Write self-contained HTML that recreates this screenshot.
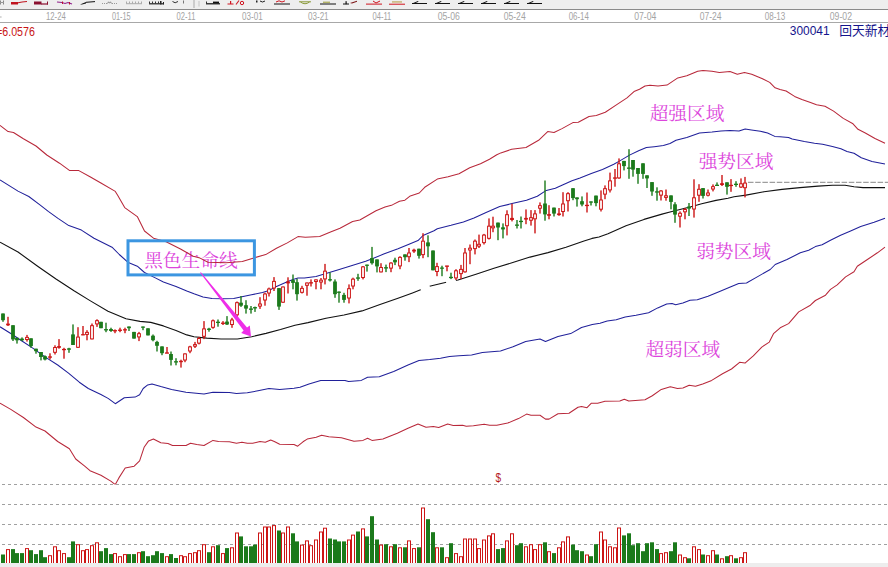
<!DOCTYPE html><html><head><meta charset="utf-8"><title>chart</title><style>
html,body{margin:0;padding:0;background:#fff}body{width:888px;height:567px;overflow:hidden;position:relative;font-family:"Liberation Sans","Noto Sans CJK SC",sans-serif}
svg{position:absolute;left:0;top:0;display:block}
.cn{font-family:"Liberation Serif","Noto Serif CJK SC",serif}
</style></head><body>
<svg width="888" height="567" viewBox="0 0 888 567">
<rect x="0" y="0" width="888" height="567" fill="#fff"/>
<rect x="0" y="0" width="888" height="9" fill="#eeeeee"/>
<rect x="0" y="9" width="888" height="1" fill="#8a8a8a"/>
<rect x="0" y="22" width="888" height="1" fill="#a8a8a8"/>
<g id="tb">
<rect x="0" y="0.5" width="1" height="4" fill="#888"/>
<rect x="3" y="0.5" width="1" height="4" fill="#888"/>
<rect x="0" y="2" width="4" height="1" fill="#999"/>
<rect x="11" y="2" width="7" height="2.5" fill="#c0141e"/>
<line x1="17" y1="3" x2="22" y2="2" stroke="#c0141e" stroke-width="1.2"/>
<line x1="22" y1="2" x2="27" y2="1.5" stroke="#c0141e" stroke-width="1"/>
<rect x="34" y="1.5" width="7.5" height="3" fill="#8a1030"/>
<line x1="41" y1="4" x2="48" y2="4" stroke="#8a1030" stroke-width="1.2"/>
<rect x="47" y="1.5" width="1" height="3" fill="#8a1030"/>
<polyline points="57,2 62,2.5 65,3.5 68,2.5 72,4" fill="none" stroke="#90208a" stroke-width="1.1"/>
<rect x="62" y="1.5" width="1" height="2.5" fill="#c01030"/>
<rect x="69" y="2" width="1" height="2.5" fill="#c01030"/>
<polygon points="80,4.6 86,2 86,3.6 82,4.6" fill="#111"/>
<line x1="86" y1="2.3" x2="95" y2="1.6" stroke="#111" stroke-width="1"/>
<rect x="102" y="3" width="1" height="1" fill="#999"/>
<rect x="104" y="3" width="1" height="1" fill="#999"/>
<rect x="106" y="3" width="1" height="1" fill="#999"/>
<rect x="112" y="3" width="1" height="1" fill="#999"/>
<rect x="114" y="3" width="1" height="1" fill="#999"/>
<rect x="116" y="3" width="1" height="1" fill="#999"/>
<polyline points="107.5,3.5 108.5,1.8 109.5,3.2 110.5,1.8 111.5,3.5" fill="none" stroke="#777" stroke-width="0.8"/>
<rect x="126" y="3.2" width="16" height="1" fill="#aaa"/>
<rect x="126" y="1.5" width="1" height="2" fill="#aaa"/>
<rect x="129" y="1.5" width="1" height="2" fill="#aaa"/>
<rect x="132" y="1.5" width="1" height="2" fill="#aaa"/>
<rect x="135" y="1.5" width="1" height="2" fill="#aaa"/>
<rect x="138" y="1.5" width="1" height="2" fill="#aaa"/>
<rect x="141" y="1.5" width="1" height="2" fill="#aaa"/>
<rect x="149" y="3.2" width="15" height="1.2" fill="#222"/>
<rect x="149" y="1.5" width="1" height="2" fill="#333"/>
<rect x="152" y="1.5" width="1" height="2" fill="#333"/>
<rect x="155" y="1.5" width="1" height="2" fill="#333"/>
<rect x="158" y="1.5" width="1" height="2" fill="#333"/>
<rect x="160" y="1" width="1.5" height="3.4" fill="#222"/>
<rect x="163" y="2" width="1" height="2.4" fill="#222"/>
<path d="M172.5 1.5 Q175 4 178 1.5" fill="none" stroke="#333" stroke-width="1"/>
<rect x="183" y="0.5" width="1" height="3" fill="#777"/>
<rect x="193.5" y="0" width="1" height="8" fill="#aaa"/>
<rect x="198.5" y="1" width="1" height="5.5" fill="#c4c4c4"/>
<rect x="206" y="3.2" width="14" height="1.2" fill="#111"/>
<rect x="213" y="1.6" width="6" height="1.8" fill="#111"/>
<rect x="206" y="1.5" width="1" height="2" fill="#333"/>
<rect x="227.5" y="3.5" width="6" height="1" fill="#d01420"/>
<rect x="230" y="1" width="1.2" height="3" fill="#d01420"/>
<line x1="236" y1="4.5" x2="239" y2="0.5" stroke="#d01420" stroke-width="1.1"/>
<circle cx="242" cy="3" r="1.7" fill="none" stroke="#d01420" stroke-width="1"/>
<rect x="256" y="0.5" width="1.5" height="2" fill="#222"/>
<path d="M260 1 Q262.5 3 265 1" fill="none" stroke="#222" stroke-width="1"/>
<rect x="274" y="3.5" width="16" height="1" fill="#111"/>
<polyline points="276,2 279,0.8 282,2 285,0.8" fill="none" stroke="#d01420" stroke-width="1"/>
<rect x="299" y="1.3" width="12" height="1" fill="#8a9a3a"/>
<path d="M300.5 2 Q305 5.5 309.5 2" fill="none" stroke="#8a9a3a" stroke-width="1"/>
<rect x="320" y="3.5" width="16" height="1" fill="#111"/>
<rect x="323" y="1.7" width="7" height="1" fill="#9a9a30"/>
<rect x="343" y="3.5" width="6" height="1" fill="#111"/>
<rect x="345.5" y="1.2" width="1.2" height="3" fill="#111"/>
<polygon points="350,3 357,0.8 357,1.8 352,3.4" fill="#7a1010"/>
<rect x="366" y="3.6" width="16" height="1" fill="#d01420"/>
<polyline points="373,1 376,3 380,1" fill="none" stroke="#d01420" stroke-width="1"/>
<rect x="389" y="3.7" width="16" height="1" fill="#d01420"/>
<rect x="392" y="1.5" width="10" height="0.9" fill="#b0902a"/>
<rect x="412" y="3" width="15" height="1" fill="#111"/>
<polygon points="412,3.6 418,1 418.5,1.8 414.5,3.6" fill="#111"/>
<rect x="435" y="3" width="15" height="1" fill="#111"/>
<polygon points="435,3.6 441,1 441.5,1.8 437.5,3.6" fill="#111"/>
<rect x="458" y="3" width="15" height="1" fill="#111"/>
<polygon points="458,3.6 464,1 464.5,1.8 460.5,3.6" fill="#111"/>
<rect x="481" y="3" width="15" height="1" fill="#111"/>
<polygon points="481,3.6 487,1 487.5,1.8 483.5,3.6" fill="#111"/>
<rect x="504" y="3" width="15" height="1" fill="#111"/>
<polygon points="504,3.6 510,1 510.5,1.8 506.5,3.6" fill="#111"/>
<rect x="527" y="3" width="15" height="1" fill="#111"/>
<polygon points="527,3.6 533,1 533.5,1.8 529.5,3.6" fill="#111"/>
</g>
<rect x="0" y="16.5" width="1.6" height="1" fill="#b0b0b0"/>
<g font-family="Liberation Sans, sans-serif" font-size="10px" fill="#a4a4a4">
<text x="46" y="19.9" textLength="19.8" lengthAdjust="spacingAndGlyphs">12-24</text>
<text x="111.9" y="19.9" textLength="18.8" lengthAdjust="spacingAndGlyphs">01-15</text>
<text x="176.6" y="19.9" textLength="18.8" lengthAdjust="spacingAndGlyphs">02-11</text>
<text x="242.1" y="19.9" textLength="20.6" lengthAdjust="spacingAndGlyphs">03-01</text>
<text x="308" y="19.9" textLength="20.6" lengthAdjust="spacingAndGlyphs">03-21</text>
<text x="372.5" y="19.9" textLength="18.8" lengthAdjust="spacingAndGlyphs">04-11</text>
<text x="437.7" y="19.9" textLength="22.2" lengthAdjust="spacingAndGlyphs">05-06</text>
<text x="503.7" y="19.9" textLength="22.0" lengthAdjust="spacingAndGlyphs">05-24</text>
<text x="568.7" y="19.9" textLength="20.2" lengthAdjust="spacingAndGlyphs">06-14</text>
<text x="634.2" y="19.9" textLength="22.2" lengthAdjust="spacingAndGlyphs">07-04</text>
<text x="699.7" y="19.9" textLength="21.8" lengthAdjust="spacingAndGlyphs">07-24</text>
<text x="764.7" y="19.9" textLength="20.6" lengthAdjust="spacingAndGlyphs">08-13</text>
<text x="829.8" y="19.9" textLength="22.2" lengthAdjust="spacingAndGlyphs">09-02</text>
</g>
<text x="-4.8" y="36.3" font-family="Liberation Sans, sans-serif" font-size="12.3px" fill="#c81414">=</text>
<text x="2.3" y="36.3" font-family="Liberation Sans, sans-serif" font-size="12.3px" fill="#c81414" textLength="32.6" lengthAdjust="spacingAndGlyphs">6.0576</text>
<text x="789.8" y="35.2" font-family="Liberation Sans, sans-serif" font-size="13.5px" fill="#14148c" textLength="39.8" lengthAdjust="spacingAndGlyphs">300041</text>
<text x="839.2" y="35.3" font-family="Liberation Sans, Noto Sans CJK SC, sans-serif" font-size="12.8px" fill="#14148c">回天新材</text>
<line x1="0" y1="484.5" x2="888" y2="484.5" stroke="#a0a0a0" stroke-width="1" stroke-dasharray="3 3" stroke-dashoffset="4"/>
<line x1="0" y1="504.5" x2="888" y2="504.5" stroke="#a0a0a0" stroke-width="1" stroke-dasharray="3 3" stroke-dashoffset="4"/>
<line x1="0" y1="524.5" x2="888" y2="524.5" stroke="#a0a0a0" stroke-width="1" stroke-dasharray="3 3" stroke-dashoffset="4"/>
<line x1="0" y1="544.5" x2="888" y2="544.5" stroke="#a0a0a0" stroke-width="1" stroke-dasharray="3 3" stroke-dashoffset="4"/>
<rect x="0" y="563" width="888" height="4" fill="#ededed"/>
<line x1="748" y1="182.3" x2="888" y2="182.3" stroke="#868686" stroke-width="1" stroke-dasharray="5.5 1.7"/>
<g class="cn" font-family="Liberation Serif, Noto Serif CJK SC, serif" font-size="18.7px" fill="#dc46dc">
<text x="649.7" y="120.1">超强区域</text>
<text x="698.7" y="167.6">强势区域</text>
<text x="696.2" y="258.3">弱势区域</text>
<text x="645.4" y="355.6">超弱区域</text>
<text x="144.2" y="266.8">黑色生命线</text>
</g>
<defs><clipPath id="cp"><rect x="0" y="23" width="888" height="461.5"/></clipPath></defs>
<g clip-path="url(#cp)" fill="none" stroke-width="1.05" stroke-linejoin="round">
<polyline points="0.0,125.3 8.1,131.6 13.5,132.5 23.4,138.8 36.0,146.0 46.8,155.0 59.5,163.2 69.4,170.4 78.4,170.4 90.0,176.7 100.9,183.0 115.3,191.4 117.5,195.0 124.7,207.6 137.3,216.6 144.5,231.0 153.5,238.2 166.1,241.8 180.5,249.0 193.2,256.3 200.0,258.1 208.0,262.2 226.0,262.7 242.3,261.5 253.0,258.2 265.7,254.6 276.5,248.3 287.3,242.9 298.0,236.6 305.3,237.3 319.7,236.4 330.5,232.0 340.0,228.3 352.6,221.5 359.8,220.0 376.0,210.7 385.0,207.1 392.3,204.9 399.5,201.3 404.9,200.2 410.3,195.9 419.3,193.0 424.7,187.3 437.3,179.1 448.1,176.8 459.0,173.7 469.7,167.8 480.5,163.8 489.5,159.3 496.8,154.8 500.8,152.9 511.6,149.3 526.0,147.5 538.6,140.3 547.7,131.6 554.0,132.5 562.0,128.6 572.9,122.6 578.3,122.3 589.0,116.5 596.3,115.4 605.3,112.3 616.0,105.1 627.0,97.9 634.0,91.6 639.5,89.3 645.0,86.0 650.0,85.3 658.0,86.0 667.0,85.1 677.8,77.9 686.8,75.8 697.7,71.3 703.0,70.4 712.0,71.3 719.3,72.5 730.0,71.6 737.3,74.3 744.5,72.5 751.7,74.3 762.5,78.8 769.7,82.4 775.1,87.8 780.0,89.5 786.1,91.0 794.6,96.4 801.9,99.5 810.5,102.5 816.5,104.7 825.0,106.2 833.6,111.1 843.3,118.4 853.0,123.8 858.0,129.3 865.3,133.0 875.0,138.5 885.0,143.3" stroke="#b8283a"/>
<polyline points="0.0,403.1 10.8,409.4 23.4,417.5 36.0,427.1 45.0,431.0 57.7,441.5 69.4,448.7 75.7,459.0 84.7,466.2 90.0,470.7 100.9,475.2 110.8,481.1 115.3,484.6 118.9,477.9 125.2,468.0 134.2,466.2 139.6,460.8 144.1,447.3 148.6,440.9 153.4,439.0 160.8,442.7 168.0,443.6 172.5,445.5 186.0,445.5 190.5,443.3 196.8,444.5 204.0,445.5 213.0,440.4 218.5,441.5 229.3,441.8 236.5,443.3 241.9,442.2 247.3,443.3 252.7,443.3 260.0,441.5 265.3,442.2 270.7,440.0 274.3,441.5 279.7,444.2 294.0,444.5 297.7,446.2 303.0,441.8 307.2,439.1 316.2,437.3 321.6,435.3 328.8,436.8 341.4,437.7 354.0,441.3 363.0,440.4 367.6,438.2 372.0,440.4 382.9,438.9 397.3,433.2 408.0,428.3 418.0,424.1 426.0,427.2 433.3,426.5 438.7,427.4 447.7,424.1 453.2,425.4 462.6,425.2 466.2,426.3 473.4,425.8 484.2,424.3 489.6,425.2 496.8,425.2 507.7,423.1 518.5,418.6 526.6,414.1 531.0,415.3 540.0,415.3 545.5,419.1 549.0,419.1 558.0,413.7 569.0,413.2 578.0,407.2 581.5,406.5 587.0,407.7 591.4,403.2 597.7,403.2 605.0,401.3 619.8,401.1 624.3,399.3 628.8,401.1 645.0,399.8 652.3,395.7 661.3,389.4 670.3,386.7 677.5,388.5 682.9,388.1 689.2,385.2 695.5,386.3 702.7,384.0 711.7,380.4 722.5,373.7 731.5,369.0 739.6,362.3 745.0,363.1 753.3,355.9 761.8,347.1 769.3,342.1 773.5,333.7 780.2,327.8 788.6,323.6 798.7,311.9 810.4,305.2 815.4,300.5 825.5,295.2 830.5,289.4 837.2,284.9 845.6,276.9 854.0,271.8 857.3,266.2 867.4,259.5 877.4,252.8 885.0,247.2" stroke="#b8283a"/>
<polyline points="0.0,179.9 18.0,191.1 28.8,196.5 39.6,204.7 48.6,211.6 58.0,218.4 68.8,225.6 81.4,230.1 94.0,238.2 112.0,247.2 119.3,254.5 128.3,262.6 137.3,266.2 144.5,272.5 155.3,277.9 163.4,282.0 176.0,286.5 186.8,291.0 194.0,293.8 203.0,297.0 212.0,298.6 222.9,298.8 233.7,298.5 240.7,297.0 251.5,294.7 262.5,292.6 269.0,290.5 276.5,286.4 287.3,281.8 293.0,279.5 298.0,277.9 304.4,278.0 316.0,276.4 326.0,273.5 336.8,270.3 351.3,265.8 365.7,261.3 372.9,258.6 383.7,254.1 398.0,248.7 409.0,244.2 418.0,240.6 423.0,235.5 434.0,230.7 437.3,228.7 451.0,225.3 463.4,221.9 474.0,218.0 485.5,212.7 499.7,206.6 512.0,203.6 526.5,200.3 537.3,196.2 546.3,190.4 555.3,188.2 562.5,185.0 572.0,180.8 580.0,177.9 591.3,173.4 602.5,169.4 613.8,164.3 619.4,161.1 629.5,155.1 638.6,150.8 646.4,147.6 654.3,146.7 663.4,145.6 670.0,143.5 676.0,140.3 686.8,137.4 699.5,132.9 712.0,132.0 721.0,131.1 730.0,130.5 739.0,131.1 745.2,129.0 751.4,129.9 760.4,131.2 767.6,133.0 774.8,136.4 780.0,136.8 788.5,137.6 792.2,139.1 804.4,141.5 814.5,143.2 822.6,144.3 832.4,146.4 840.9,148.8 847.0,151.5 854.0,153.3 861.3,157.8 872.0,161.4 885.0,164.1" stroke="#20209a"/>
<polyline points="0.0,326.8 10.8,333.5 21.6,340.7 32.4,347.9 45.0,356.9 57.7,365.0 68.5,373.2 79.3,382.2 88.3,388.5 100.9,394.5 108.1,398.4 115.3,403.7 124.3,397.8 135.1,397.1 139.6,394.8 143.2,388.5 147.7,384.9 152.0,383.9 160.8,386.6 171.6,389.5 186.0,392.3 204.0,394.1 213.0,392.3 229.3,392.6 236.5,393.5 247.3,392.8 258.0,390.8 269.0,388.6 279.7,389.5 294.0,388.3 300.0,387.3 309.0,384.0 320.7,380.4 345.0,380.4 348.6,381.6 361.3,380.4 367.6,377.3 379.3,376.8 393.7,371.4 408.0,365.0 419.0,360.5 429.7,359.6 440.5,358.2 449.5,356.4 459.0,355.8 471.6,354.9 482.4,352.5 500.5,350.9 513.0,346.8 525.7,341.4 540.0,339.0 545.5,341.4 558.0,336.5 570.7,333.6 581.5,327.5 592.3,324.6 600.0,323.3 607.2,321.1 616.2,319.7 625.2,317.0 636.0,315.2 648.6,312.8 657.7,307.9 666.7,304.0 672.0,303.4 675.7,304.7 682.9,303.1 690.0,300.2 697.3,299.8 708.0,296.2 719.0,291.7 729.7,287.2 738.7,283.6 746.5,283.0 756.8,277.1 770.2,269.5 775.2,264.5 787.0,259.5 800.3,252.8 808.7,250.3 815.4,246.6 822.1,244.7 830.5,240.2 840.6,235.2 850.6,231.0 860.7,226.5 874.1,222.3 885.0,218.2" stroke="#20209a"/>
<polyline points="0.0,242.2 18.0,252.0 38.0,266.5 56.0,279.0 74.0,290.8 90.0,300.6 108.0,311.3 126.0,318.8 140.0,321.4 150.8,322.4 163.4,325.9 176.0,330.4 186.8,334.9 194.0,336.7 206.7,338.1 221.0,339.0 237.3,339.0 251.7,336.7 266.0,333.4 280.5,329.5 295.0,325.2 308.0,322.6 326.0,318.3 344.0,315.0 362.0,310.9 380.0,304.6 398.0,298.3 412.5,292.9 420.6,289.8 429.6,286.2 440.0,283.7 446.3,282.3 458.0,280.0 476.0,274.2 494.0,268.2 512.0,262.8 530.0,257.1 548.0,252.6 566.0,247.2 584.0,240.9 592.0,238.4 599.0,237.0 608.0,233.8 626.0,225.7 644.0,219.4 662.0,214.1 671.0,211.8 680.0,209.5 691.0,206.8 701.7,203.7 716.0,200.4 728.0,198.2 734.0,196.8 746.0,195.1 764.0,191.7 782.0,189.4 800.0,187.6 818.0,186.1 832.5,185.2 845.0,185.2 854.0,186.7 863.0,187.6 885.0,187.6" stroke="#111" stroke-width="1.1"/>
</g>
<line x1="420.7" y1="289.6" x2="429.7" y2="286.1" stroke="#fff" stroke-width="4"/>
<line x1="446.2" y1="282.9" x2="456" y2="280.7" stroke="#fff" stroke-width="4"/>
<g>
<rect x="2.30" y="313.5" width="1.4" height="8.3" fill="#1b7a1b"/>
<rect x="1.1" y="313.5" width="3.8" height="6.7" fill="#1b7a1b"/>
<rect x="7.30" y="316.8" width="1.4" height="9.2" fill="#cc1414"/>
<rect x="6.1" y="323.6" width="3.8" height="1.7" fill="#cc1414"/>
<rect x="12.30" y="325.2" width="1.4" height="15.8" fill="#1b7a1b"/>
<rect x="11.1" y="325.2" width="3.8" height="14.2" fill="#1b7a1b"/>
<rect x="16.30" y="337.8" width="1.4" height="5.8" fill="#1b7a1b"/>
<rect x="15.1" y="337.8" width="3.8" height="2.5" fill="#1b7a1b"/>
<rect x="21.30" y="337.4" width="1.4" height="3.7" fill="#1b7a1b"/>
<rect x="20.1" y="338.6" width="3.8" height="1.7" fill="#1b7a1b"/>
<rect x="26.30" y="334.9" width="1.4" height="6.7" fill="#cc1414"/>
<rect x="25.1" y="336.9" width="3.8" height="3.1" fill="#cc1414"/>
<rect x="26.1" y="337.9" width="1.8" height="1.1" fill="#fff"/>
<rect x="30.30" y="338.3" width="1.4" height="9.5" fill="#1b7a1b"/>
<rect x="29.1" y="338.3" width="3.8" height="7.8" fill="#1b7a1b"/>
<rect x="35.30" y="348.7" width="1.4" height="5.0" fill="#1b7a1b"/>
<rect x="34.1" y="348.7" width="3.8" height="2.5" fill="#1b7a1b"/>
<rect x="40.30" y="352.0" width="1.4" height="8.4" fill="#1b7a1b"/>
<rect x="39.1" y="352.0" width="3.8" height="5.0" fill="#1b7a1b"/>
<rect x="44.30" y="355.4" width="1.4" height="5.0" fill="#1b7a1b"/>
<rect x="43.1" y="356.2" width="3.8" height="3.3" fill="#1b7a1b"/>
<rect x="49.30" y="353.3" width="1.4" height="6.2" fill="#cc1414"/>
<rect x="48" y="356.4" width="4" height="1.3" fill="#cc1414"/>
<rect x="54.30" y="345.3" width="1.4" height="9.2" fill="#cc1414"/>
<rect x="53.1" y="347.0" width="3.8" height="5.8" fill="#cc1414"/>
<rect x="54.1" y="348.0" width="1.8" height="3.8" fill="#fff"/>
<rect x="58.30" y="339.1" width="1.4" height="9.6" fill="#cc1414"/>
<rect x="57.1" y="346.1" width="3.8" height="1.7" fill="#cc1414"/>
<rect x="63.30" y="347.8" width="1.4" height="10.9" fill="#cc1414"/>
<rect x="62" y="348.9" width="4" height="1.3" fill="#cc1414"/>
<rect x="68.30" y="347.8" width="1.4" height="5.0" fill="#1b7a1b"/>
<rect x="67" y="348.4" width="4" height="1.3" fill="#1b7a1b"/>
<rect x="72.30" y="324.4" width="1.4" height="20.6" fill="#1b7a1b"/>
<rect x="71.1" y="334.4" width="3.8" height="10.6" fill="#1b7a1b"/>
<rect x="77.30" y="327.2" width="1.4" height="20.6" fill="#cc1414"/>
<rect x="76.1" y="336.6" width="3.8" height="11.2" fill="#cc1414"/>
<rect x="77.1" y="337.6" width="1.8" height="9.2" fill="#fff"/>
<rect x="82.30" y="326.0" width="1.4" height="9.2" fill="#cc1414"/>
<rect x="81.1" y="334.1" width="3.8" height="1.3" fill="#cc1414"/>
<rect x="86.30" y="330.2" width="1.4" height="10.1" fill="#cc1414"/>
<rect x="85.1" y="331.9" width="3.8" height="3.0" fill="#cc1414"/>
<rect x="86.1" y="332.9" width="1.8" height="1.0" fill="#fff"/>
<rect x="91.30" y="323.5" width="1.4" height="15.9" fill="#cc1414"/>
<rect x="90.1" y="325.2" width="3.8" height="14.2" fill="#cc1414"/>
<rect x="91.1" y="326.2" width="1.8" height="12.2" fill="#fff"/>
<rect x="96.30" y="319.3" width="1.4" height="7.6" fill="#cc1414"/>
<rect x="95.1" y="320.2" width="3.8" height="4.2" fill="#cc1414"/>
<rect x="96.1" y="321.2" width="1.8" height="2.2" fill="#fff"/>
<rect x="100.30" y="321.8" width="1.4" height="6.4" fill="#1b7a1b"/>
<rect x="99.1" y="321.8" width="3.8" height="6.4" fill="#1b7a1b"/>
<rect x="105.30" y="322.7" width="1.4" height="9.5" fill="#1b7a1b"/>
<rect x="104" y="329.1" width="4" height="1.3" fill="#1b7a1b"/>
<rect x="110.30" y="327.7" width="1.4" height="4.2" fill="#1b7a1b"/>
<rect x="109.1" y="329.0" width="3.8" height="2.0" fill="#1b7a1b"/>
<rect x="114.30" y="329.4" width="1.4" height="3.8" fill="#cc1414"/>
<rect x="113" y="330.1" width="4" height="1.3" fill="#cc1414"/>
<rect x="119.30" y="327.7" width="1.4" height="4.5" fill="#cc1414"/>
<rect x="118" y="329.6" width="4" height="1.3" fill="#cc1414"/>
<rect x="124.30" y="327.7" width="1.4" height="5.5" fill="#cc1414"/>
<rect x="123" y="329.2" width="4" height="1.3" fill="#cc1414"/>
<rect x="128.30" y="326.5" width="1.4" height="4.5" fill="#1b7a1b"/>
<rect x="127.1" y="326.5" width="3.8" height="1.7" fill="#1b7a1b"/>
<rect x="133.30" y="331.9" width="1.4" height="6.7" fill="#1b7a1b"/>
<rect x="132.1" y="331.9" width="3.8" height="6.7" fill="#1b7a1b"/>
<rect x="138.30" y="331.9" width="1.4" height="9.2" fill="#cc1414"/>
<rect x="137.1" y="333.2" width="3.8" height="4.2" fill="#cc1414"/>
<rect x="138.1" y="334.2" width="1.8" height="2.2" fill="#fff"/>
<rect x="142.30" y="326.5" width="1.4" height="3.7" fill="#1b7a1b"/>
<rect x="141.1" y="326.5" width="3.8" height="1.3" fill="#1b7a1b"/>
<rect x="147.30" y="328.3" width="1.4" height="7.1" fill="#1b7a1b"/>
<rect x="146.1" y="328.3" width="3.8" height="7.1" fill="#1b7a1b"/>
<rect x="152.30" y="334.5" width="1.4" height="6.8" fill="#1b7a1b"/>
<rect x="151.1" y="335.7" width="3.8" height="4.5" fill="#1b7a1b"/>
<rect x="156.30" y="340.8" width="1.4" height="10.7" fill="#1b7a1b"/>
<rect x="155.1" y="341.9" width="3.8" height="3.9" fill="#1b7a1b"/>
<rect x="161.30" y="346.4" width="1.4" height="8.8" fill="#1b7a1b"/>
<rect x="160.1" y="346.4" width="3.8" height="6.8" fill="#1b7a1b"/>
<rect x="166.30" y="347.0" width="1.4" height="6.2" fill="#cc1414"/>
<rect x="165" y="352.4" width="4" height="1.3" fill="#cc1414"/>
<rect x="170.30" y="351.5" width="1.4" height="14.0" fill="#1b7a1b"/>
<rect x="169.1" y="354.0" width="3.8" height="5.9" fill="#1b7a1b"/>
<rect x="175.30" y="358.2" width="1.4" height="7.1" fill="#1b7a1b"/>
<rect x="174" y="361.2" width="4" height="1.3" fill="#1b7a1b"/>
<rect x="180.30" y="359.7" width="1.4" height="7.9" fill="#cc1414"/>
<rect x="179.1" y="360.8" width="3.8" height="1.4" fill="#cc1414"/>
<rect x="184.30" y="353.4" width="1.4" height="8.8" fill="#cc1414"/>
<rect x="183.1" y="353.4" width="3.8" height="7.1" fill="#cc1414"/>
<rect x="184.1" y="354.4" width="1.8" height="5.1" fill="#fff"/>
<rect x="189.30" y="345.8" width="1.4" height="7.4" fill="#cc1414"/>
<rect x="188.1" y="346.4" width="3.8" height="5.1" fill="#cc1414"/>
<rect x="189.1" y="347.4" width="1.8" height="3.1" fill="#fff"/>
<rect x="194.30" y="341.9" width="1.4" height="6.1" fill="#cc1414"/>
<rect x="193.1" y="344.1" width="3.8" height="2.6" fill="#cc1414"/>
<rect x="194.1" y="345.1" width="1.8" height="0.6" fill="#fff"/>
<rect x="198.30" y="336.8" width="1.4" height="7.6" fill="#cc1414"/>
<rect x="197.1" y="338.0" width="3.8" height="5.6" fill="#cc1414"/>
<rect x="198.1" y="339.0" width="1.8" height="3.6" fill="#fff"/>
<rect x="203.30" y="321.1" width="1.4" height="18.0" fill="#cc1414"/>
<rect x="202.1" y="328.4" width="3.8" height="8.4" fill="#cc1414"/>
<rect x="203.1" y="329.4" width="1.8" height="6.4" fill="#fff"/>
<rect x="208.30" y="327.8" width="1.4" height="3.9" fill="#1b7a1b"/>
<rect x="207" y="328.6" width="4" height="1.3" fill="#1b7a1b"/>
<rect x="212.30" y="319.5" width="1.4" height="9.2" fill="#cc1414"/>
<rect x="211.1" y="320.3" width="3.8" height="7.5" fill="#cc1414"/>
<rect x="212.1" y="321.3" width="1.8" height="5.5" fill="#fff"/>
<rect x="217.30" y="319.5" width="1.4" height="7.2" fill="#1b7a1b"/>
<rect x="216" y="321.7" width="4" height="1.3" fill="#1b7a1b"/>
<rect x="222.30" y="321.1" width="1.4" height="3.9" fill="#cc1414"/>
<rect x="221" y="322.6" width="4" height="1.3" fill="#cc1414"/>
<rect x="226.30" y="316.1" width="1.4" height="8.9" fill="#1b7a1b"/>
<rect x="225.1" y="321.6" width="3.8" height="2.9" fill="#1b7a1b"/>
<rect x="231.30" y="317.8" width="1.4" height="10.0" fill="#cc1414"/>
<rect x="230.1" y="319.5" width="3.8" height="5.5" fill="#cc1414"/>
<rect x="231.1" y="320.5" width="1.8" height="3.5" fill="#fff"/>
<rect x="236.30" y="301.5" width="1.4" height="15.5" fill="#cc1414"/>
<rect x="235.1" y="302.2" width="3.8" height="13.1" fill="#cc1414"/>
<rect x="236.1" y="303.2" width="1.8" height="11.1" fill="#fff"/>
<rect x="240.30" y="296.0" width="1.4" height="10.9" fill="#1b7a1b"/>
<rect x="239.1" y="302.7" width="3.8" height="3.0" fill="#1b7a1b"/>
<rect x="245.30" y="300.2" width="1.4" height="13.4" fill="#1b7a1b"/>
<rect x="244.1" y="305.2" width="3.8" height="3.4" fill="#1b7a1b"/>
<rect x="250.30" y="306.0" width="1.4" height="7.6" fill="#1b7a1b"/>
<rect x="249" y="308.5" width="4" height="1.3" fill="#1b7a1b"/>
<rect x="254.30" y="306.6" width="1.4" height="5.3" fill="#1b7a1b"/>
<rect x="253" y="307.1" width="4" height="1.3" fill="#1b7a1b"/>
<rect x="259.30" y="297.2" width="1.4" height="11.7" fill="#cc1414"/>
<rect x="258.1" y="303.5" width="3.8" height="3.1" fill="#cc1414"/>
<rect x="259.1" y="304.5" width="1.8" height="1.1" fill="#fff"/>
<rect x="264.30" y="292.7" width="1.4" height="13.0" fill="#cc1414"/>
<rect x="263.1" y="293.5" width="3.8" height="7.0" fill="#cc1414"/>
<rect x="264.1" y="294.5" width="1.8" height="5.0" fill="#fff"/>
<rect x="268.30" y="287.6" width="1.4" height="8.9" fill="#cc1414"/>
<rect x="267.1" y="288.5" width="3.8" height="5.0" fill="#cc1414"/>
<rect x="268.1" y="289.5" width="1.8" height="3.0" fill="#fff"/>
<rect x="273.30" y="277.1" width="1.4" height="13.9" fill="#cc1414"/>
<rect x="272.1" y="280.9" width="3.8" height="7.6" fill="#cc1414"/>
<rect x="273.1" y="281.9" width="1.8" height="5.6" fill="#fff"/>
<rect x="278.30" y="288.1" width="1.4" height="21.8" fill="#1b7a1b"/>
<rect x="277.1" y="288.1" width="3.8" height="18.5" fill="#1b7a1b"/>
<rect x="282.30" y="286.5" width="1.4" height="16.2" fill="#cc1414"/>
<rect x="281.1" y="286.5" width="3.8" height="16.2" fill="#cc1414"/>
<rect x="282.1" y="287.5" width="1.8" height="14.2" fill="#fff"/>
<rect x="287.30" y="277.3" width="1.4" height="16.2" fill="#cc1414"/>
<rect x="286.1" y="281.5" width="3.8" height="1.9" fill="#cc1414"/>
<rect x="292.30" y="274.5" width="1.4" height="14.8" fill="#1b7a1b"/>
<rect x="291.1" y="280.1" width="3.8" height="2.8" fill="#1b7a1b"/>
<rect x="296.30" y="278.7" width="1.4" height="21.9" fill="#1b7a1b"/>
<rect x="295.1" y="282.2" width="3.8" height="12.0" fill="#1b7a1b"/>
<rect x="301.30" y="285.8" width="1.4" height="7.7" fill="#cc1414"/>
<rect x="300.1" y="287.9" width="3.8" height="4.9" fill="#cc1414"/>
<rect x="301.1" y="288.9" width="1.8" height="2.9" fill="#fff"/>
<rect x="306.30" y="282.5" width="1.4" height="13.2" fill="#cc1414"/>
<rect x="305.1" y="282.5" width="3.8" height="3.3" fill="#cc1414"/>
<rect x="306.1" y="283.5" width="1.8" height="1.3" fill="#fff"/>
<rect x="310.30" y="279.4" width="1.4" height="7.1" fill="#cc1414"/>
<rect x="309" y="282.2" width="4" height="1.3" fill="#cc1414"/>
<rect x="315.30" y="279.4" width="1.4" height="9.9" fill="#cc1414"/>
<rect x="314.1" y="279.4" width="3.8" height="2.6" fill="#cc1414"/>
<rect x="315.1" y="280.4" width="1.8" height="0.6" fill="#fff"/>
<rect x="320.30" y="278.0" width="1.4" height="11.3" fill="#cc1414"/>
<rect x="319.1" y="279.7" width="3.8" height="2.8" fill="#cc1414"/>
<rect x="320.1" y="280.7" width="1.8" height="0.8" fill="#fff"/>
<rect x="324.30" y="263.9" width="1.4" height="20.5" fill="#cc1414"/>
<rect x="323.1" y="270.7" width="3.8" height="8.7" fill="#cc1414"/>
<rect x="324.1" y="271.7" width="1.8" height="6.7" fill="#fff"/>
<rect x="329.30" y="272.4" width="1.4" height="9.1" fill="#1b7a1b"/>
<rect x="328.1" y="279.1" width="3.8" height="1.4" fill="#1b7a1b"/>
<rect x="334.30" y="279.4" width="1.4" height="18.4" fill="#1b7a1b"/>
<rect x="333.1" y="281.5" width="3.8" height="12.7" fill="#1b7a1b"/>
<rect x="338.30" y="291.4" width="1.4" height="11.3" fill="#1b7a1b"/>
<rect x="337.1" y="291.6" width="3.8" height="1.3" fill="#1b7a1b"/>
<rect x="343.30" y="292.8" width="1.4" height="9.9" fill="#1b7a1b"/>
<rect x="342.1" y="294.9" width="3.8" height="5.0" fill="#1b7a1b"/>
<rect x="348.30" y="284.4" width="1.4" height="19.0" fill="#cc1414"/>
<rect x="347.1" y="288.2" width="3.8" height="10.3" fill="#cc1414"/>
<rect x="348.1" y="289.2" width="1.8" height="8.3" fill="#fff"/>
<rect x="352.30" y="277.7" width="1.4" height="11.6" fill="#cc1414"/>
<rect x="351.1" y="278.7" width="3.8" height="7.8" fill="#cc1414"/>
<rect x="352.1" y="279.7" width="1.8" height="5.8" fill="#fff"/>
<rect x="357.30" y="273.8" width="1.4" height="7.0" fill="#1b7a1b"/>
<rect x="356" y="277.4" width="4" height="1.3" fill="#1b7a1b"/>
<rect x="362.30" y="266.0" width="1.4" height="13.4" fill="#cc1414"/>
<rect x="361.1" y="266.4" width="3.8" height="11.6" fill="#cc1414"/>
<rect x="362.1" y="267.4" width="1.8" height="9.6" fill="#fff"/>
<rect x="366.30" y="264.6" width="1.4" height="7.0" fill="#1b7a1b"/>
<rect x="365.1" y="264.6" width="3.8" height="1.3" fill="#1b7a1b"/>
<rect x="371.30" y="246.9" width="1.4" height="17.7" fill="#1b7a1b"/>
<rect x="370.1" y="258.0" width="3.8" height="5.2" fill="#1b7a1b"/>
<rect x="376.30" y="259.4" width="1.4" height="13.0" fill="#1b7a1b"/>
<rect x="375.1" y="259.4" width="3.8" height="7.0" fill="#1b7a1b"/>
<rect x="380.30" y="263.2" width="1.4" height="9.2" fill="#cc1414"/>
<rect x="379.1" y="267.0" width="3.8" height="5.4" fill="#cc1414"/>
<rect x="380.1" y="268.0" width="1.8" height="3.4" fill="#fff"/>
<rect x="385.30" y="264.6" width="1.4" height="7.5" fill="#1b7a1b"/>
<rect x="384" y="267.2" width="4" height="1.3" fill="#1b7a1b"/>
<rect x="390.30" y="262.2" width="1.4" height="10.0" fill="#cc1414"/>
<rect x="389.1" y="262.6" width="3.8" height="6.0" fill="#cc1414"/>
<rect x="390.1" y="263.6" width="1.8" height="4.0" fill="#fff"/>
<rect x="394.30" y="257.7" width="1.4" height="7.4" fill="#1b7a1b"/>
<rect x="393.1" y="259.8" width="3.8" height="2.5" fill="#1b7a1b"/>
<rect x="399.30" y="256.2" width="1.4" height="13.0" fill="#cc1414"/>
<rect x="398.1" y="256.9" width="3.8" height="9.5" fill="#cc1414"/>
<rect x="399.1" y="257.9" width="1.8" height="7.5" fill="#fff"/>
<rect x="404.30" y="254.4" width="1.4" height="6.3" fill="#1b7a1b"/>
<rect x="403.1" y="254.4" width="3.8" height="2.8" fill="#1b7a1b"/>
<rect x="408.30" y="248.0" width="1.4" height="14.1" fill="#cc1414"/>
<rect x="407.1" y="252.5" width="3.8" height="4.7" fill="#cc1414"/>
<rect x="408.1" y="253.5" width="1.8" height="2.7" fill="#fff"/>
<rect x="413.30" y="248.7" width="1.4" height="4.2" fill="#cc1414"/>
<rect x="412.1" y="249.7" width="3.8" height="1.8" fill="#cc1414"/>
<rect x="418.30" y="248.7" width="1.4" height="9.9" fill="#1b7a1b"/>
<rect x="417.1" y="248.7" width="3.8" height="7.1" fill="#1b7a1b"/>
<rect x="422.30" y="233.2" width="1.4" height="25.0" fill="#cc1414"/>
<rect x="421.1" y="240.7" width="3.8" height="14.4" fill="#cc1414"/>
<rect x="422.1" y="241.7" width="1.8" height="12.4" fill="#fff"/>
<rect x="427.30" y="235.3" width="1.4" height="21.9" fill="#1b7a1b"/>
<rect x="426.1" y="242.4" width="3.8" height="3.9" fill="#1b7a1b"/>
<rect x="432.30" y="250.5" width="1.4" height="19.8" fill="#1b7a1b"/>
<rect x="431.1" y="250.5" width="3.8" height="19.8" fill="#1b7a1b"/>
<rect x="436.30" y="262.8" width="1.4" height="13.4" fill="#cc1414"/>
<rect x="435.1" y="266.1" width="3.8" height="5.9" fill="#cc1414"/>
<rect x="436.1" y="267.1" width="1.8" height="3.9" fill="#fff"/>
<rect x="441.30" y="265.7" width="1.4" height="10.5" fill="#1b7a1b"/>
<rect x="440.1" y="267.5" width="3.8" height="1.3" fill="#1b7a1b"/>
<rect x="446.30" y="265.7" width="1.4" height="5.6" fill="#cc1414"/>
<rect x="445" y="265.5" width="4" height="1.3" fill="#cc1414"/>
<rect x="450.30" y="272.7" width="1.4" height="6.4" fill="#1b7a1b"/>
<rect x="449" y="276.8" width="4" height="1.3" fill="#1b7a1b"/>
<rect x="455.30" y="269.2" width="1.4" height="10.8" fill="#cc1414"/>
<rect x="454.1" y="270.3" width="3.8" height="8.1" fill="#cc1414"/>
<rect x="455.1" y="271.3" width="1.8" height="6.1" fill="#fff"/>
<rect x="460.30" y="264.9" width="1.4" height="14.2" fill="#cc1414"/>
<rect x="459.1" y="268.9" width="3.8" height="5.2" fill="#cc1414"/>
<rect x="460.1" y="269.9" width="1.8" height="3.2" fill="#fff"/>
<rect x="464.30" y="248.0" width="1.4" height="24.7" fill="#cc1414"/>
<rect x="463.1" y="252.5" width="3.8" height="19.8" fill="#cc1414"/>
<rect x="464.1" y="253.5" width="1.8" height="17.8" fill="#fff"/>
<rect x="469.30" y="244.5" width="1.4" height="19.7" fill="#cc1414"/>
<rect x="468.1" y="247.7" width="3.8" height="2.8" fill="#cc1414"/>
<rect x="469.1" y="248.7" width="1.8" height="0.8" fill="#fff"/>
<rect x="474.30" y="239.5" width="1.4" height="14.9" fill="#cc1414"/>
<rect x="473.1" y="240.7" width="3.8" height="8.4" fill="#cc1414"/>
<rect x="474.1" y="241.7" width="1.8" height="6.4" fill="#fff"/>
<rect x="478.30" y="234.6" width="1.4" height="13.4" fill="#cc1414"/>
<rect x="477.1" y="243.8" width="3.8" height="2.8" fill="#cc1414"/>
<rect x="478.1" y="244.8" width="1.8" height="0.8" fill="#fff"/>
<rect x="483.30" y="233.9" width="1.4" height="10.6" fill="#cc1414"/>
<rect x="482.1" y="234.6" width="3.8" height="8.5" fill="#cc1414"/>
<rect x="483.1" y="235.6" width="1.8" height="6.5" fill="#fff"/>
<rect x="488.30" y="218.4" width="1.4" height="21.1" fill="#cc1414"/>
<rect x="487.1" y="225.7" width="3.8" height="13.1" fill="#cc1414"/>
<rect x="488.1" y="226.7" width="1.8" height="11.1" fill="#fff"/>
<rect x="492.30" y="216.7" width="1.4" height="15.5" fill="#cc1414"/>
<rect x="491.1" y="225.7" width="3.8" height="2.6" fill="#cc1414"/>
<rect x="492.1" y="226.7" width="1.8" height="0.6" fill="#fff"/>
<rect x="497.30" y="222.6" width="1.4" height="17.6" fill="#1b7a1b"/>
<rect x="496.1" y="222.6" width="3.8" height="4.9" fill="#1b7a1b"/>
<rect x="502.30" y="223.4" width="1.4" height="15.0" fill="#1b7a1b"/>
<rect x="501.1" y="227.3" width="3.8" height="2.1" fill="#1b7a1b"/>
<rect x="506.30" y="210.3" width="1.4" height="25.1" fill="#cc1414"/>
<rect x="505.1" y="214.2" width="3.8" height="12.0" fill="#cc1414"/>
<rect x="506.1" y="215.2" width="1.8" height="10.0" fill="#fff"/>
<rect x="511.30" y="203.8" width="1.4" height="17.6" fill="#cc1414"/>
<rect x="510.1" y="217.9" width="3.8" height="2.1" fill="#cc1414"/>
<rect x="516.30" y="220.0" width="1.4" height="8.5" fill="#1b7a1b"/>
<rect x="515" y="224.5" width="4" height="1.3" fill="#1b7a1b"/>
<rect x="520.30" y="216.5" width="1.4" height="12.0" fill="#1b7a1b"/>
<rect x="519" y="220.8" width="4" height="1.3" fill="#1b7a1b"/>
<rect x="525.30" y="209.4" width="1.4" height="14.8" fill="#cc1414"/>
<rect x="524.1" y="217.9" width="3.8" height="1.7" fill="#cc1414"/>
<rect x="530.30" y="210.1" width="1.4" height="15.5" fill="#cc1414"/>
<rect x="529.1" y="217.2" width="3.8" height="3.5" fill="#cc1414"/>
<rect x="530.1" y="218.2" width="1.8" height="1.5" fill="#fff"/>
<rect x="534.30" y="210.1" width="1.4" height="23.3" fill="#cc1414"/>
<rect x="533.1" y="213.4" width="3.8" height="5.9" fill="#cc1414"/>
<rect x="534.1" y="214.4" width="1.8" height="3.9" fill="#fff"/>
<rect x="539.30" y="202.4" width="1.4" height="11.2" fill="#cc1414"/>
<rect x="538.1" y="205.2" width="3.8" height="3.5" fill="#cc1414"/>
<rect x="539.1" y="206.2" width="1.8" height="1.5" fill="#fff"/>
<rect x="544.30" y="180.5" width="1.4" height="40.2" fill="#1b7a1b"/>
<rect x="543.1" y="203.5" width="3.8" height="10.9" fill="#1b7a1b"/>
<rect x="548.30" y="205.2" width="1.4" height="14.1" fill="#cc1414"/>
<rect x="547.1" y="214.1" width="3.8" height="1.7" fill="#cc1414"/>
<rect x="553.30" y="207.6" width="1.4" height="8.9" fill="#1b7a1b"/>
<rect x="552.1" y="207.6" width="3.8" height="6.0" fill="#1b7a1b"/>
<rect x="558.30" y="208.0" width="1.4" height="7.8" fill="#cc1414"/>
<rect x="557.1" y="213.4" width="3.8" height="1.7" fill="#cc1414"/>
<rect x="562.30" y="192.2" width="1.4" height="24.3" fill="#cc1414"/>
<rect x="561.1" y="203.5" width="3.8" height="8.5" fill="#cc1414"/>
<rect x="562.1" y="204.5" width="1.8" height="6.5" fill="#fff"/>
<rect x="567.30" y="192.2" width="1.4" height="19.3" fill="#cc1414"/>
<rect x="566.1" y="193.2" width="3.8" height="8.0" fill="#cc1414"/>
<rect x="567.1" y="194.2" width="1.8" height="6.0" fill="#fff"/>
<rect x="572.30" y="188.2" width="1.4" height="12.0" fill="#1b7a1b"/>
<rect x="571.1" y="188.2" width="3.8" height="9.9" fill="#1b7a1b"/>
<rect x="576.30" y="197.4" width="1.4" height="9.2" fill="#1b7a1b"/>
<rect x="575.1" y="197.4" width="3.8" height="1.8" fill="#1b7a1b"/>
<rect x="581.30" y="196.4" width="1.4" height="9.9" fill="#1b7a1b"/>
<rect x="580.1" y="201.2" width="3.8" height="3.3" fill="#1b7a1b"/>
<rect x="586.30" y="192.5" width="1.4" height="20.0" fill="#cc1414"/>
<rect x="585" y="204.8" width="4" height="1.3" fill="#cc1414"/>
<rect x="590.30" y="201.4" width="1.4" height="4.1" fill="#1b7a1b"/>
<rect x="589.1" y="201.4" width="3.8" height="1.3" fill="#1b7a1b"/>
<rect x="595.30" y="195.6" width="1.4" height="10.7" fill="#1b7a1b"/>
<rect x="594.1" y="195.6" width="3.8" height="7.5" fill="#1b7a1b"/>
<rect x="600.30" y="190.4" width="1.4" height="21.1" fill="#cc1414"/>
<rect x="599.1" y="199.5" width="3.8" height="10.2" fill="#cc1414"/>
<rect x="600.1" y="200.5" width="1.8" height="8.2" fill="#fff"/>
<rect x="604.30" y="185.4" width="1.4" height="13.8" fill="#cc1414"/>
<rect x="603.1" y="188.2" width="3.8" height="6.4" fill="#cc1414"/>
<rect x="604.1" y="189.2" width="1.8" height="4.4" fill="#fff"/>
<rect x="609.30" y="172.6" width="1.4" height="19.9" fill="#cc1414"/>
<rect x="608.1" y="180.4" width="3.8" height="10.0" fill="#cc1414"/>
<rect x="609.1" y="181.4" width="1.8" height="8.0" fill="#fff"/>
<rect x="614.30" y="169.0" width="1.4" height="17.7" fill="#cc1414"/>
<rect x="613" y="177.4" width="4" height="1.3" fill="#cc1414"/>
<rect x="618.30" y="158.4" width="1.4" height="20.4" fill="#cc1414"/>
<rect x="617.1" y="163.3" width="3.8" height="15.1" fill="#cc1414"/>
<rect x="618.1" y="164.3" width="1.8" height="13.1" fill="#fff"/>
<rect x="623.30" y="160.9" width="1.4" height="9.5" fill="#1b7a1b"/>
<rect x="622.1" y="160.9" width="3.8" height="5.2" fill="#1b7a1b"/>
<rect x="628.30" y="149.2" width="1.4" height="29.6" fill="#1b7a1b"/>
<rect x="627" y="167.5" width="4" height="1.3" fill="#1b7a1b"/>
<rect x="632.30" y="160.0" width="1.4" height="16.7" fill="#1b7a1b"/>
<rect x="631.1" y="160.0" width="3.8" height="9.6" fill="#1b7a1b"/>
<rect x="637.30" y="168.0" width="1.4" height="15.8" fill="#1b7a1b"/>
<rect x="636.1" y="168.0" width="3.8" height="5.9" fill="#1b7a1b"/>
<rect x="642.30" y="163.3" width="1.4" height="15.5" fill="#1b7a1b"/>
<rect x="641.1" y="163.3" width="3.8" height="10.6" fill="#1b7a1b"/>
<rect x="646.30" y="175.3" width="1.4" height="12.7" fill="#1b7a1b"/>
<rect x="645.1" y="175.3" width="3.8" height="3.1" fill="#1b7a1b"/>
<rect x="651.30" y="182.1" width="1.4" height="13.7" fill="#1b7a1b"/>
<rect x="650.1" y="182.1" width="3.8" height="9.4" fill="#1b7a1b"/>
<rect x="656.30" y="187.3" width="1.4" height="13.4" fill="#1b7a1b"/>
<rect x="655" y="191.3" width="4" height="1.3" fill="#1b7a1b"/>
<rect x="660.30" y="190.1" width="1.4" height="10.4" fill="#cc1414"/>
<rect x="659.1" y="190.5" width="3.8" height="5.1" fill="#cc1414"/>
<rect x="660.1" y="191.5" width="1.8" height="3.1" fill="#fff"/>
<rect x="665.30" y="189.5" width="1.4" height="11.2" fill="#cc1414"/>
<rect x="664.1" y="195.3" width="3.8" height="2.6" fill="#cc1414"/>
<rect x="665.1" y="196.3" width="1.8" height="0.6" fill="#fff"/>
<rect x="670.30" y="195.4" width="1.4" height="13.9" fill="#1b7a1b"/>
<rect x="669.1" y="195.4" width="3.8" height="6.5" fill="#1b7a1b"/>
<rect x="674.30" y="202.2" width="1.4" height="20.6" fill="#1b7a1b"/>
<rect x="673.1" y="204.3" width="3.8" height="10.3" fill="#1b7a1b"/>
<rect x="679.30" y="211.4" width="1.4" height="16.1" fill="#cc1414"/>
<rect x="678.1" y="212.8" width="3.8" height="3.9" fill="#cc1414"/>
<rect x="679.1" y="213.8" width="1.8" height="1.9" fill="#fff"/>
<rect x="684.30" y="207.9" width="1.4" height="11.4" fill="#cc1414"/>
<rect x="683.1" y="209.0" width="3.8" height="3.3" fill="#cc1414"/>
<rect x="684.1" y="210.0" width="1.8" height="1.3" fill="#fff"/>
<rect x="688.30" y="203.0" width="1.4" height="13.0" fill="#1b7a1b"/>
<rect x="687.1" y="206.5" width="3.8" height="2.1" fill="#1b7a1b"/>
<rect x="693.30" y="179.3" width="1.4" height="38.3" fill="#cc1414"/>
<rect x="692.1" y="197.3" width="3.8" height="12.2" fill="#cc1414"/>
<rect x="693.1" y="198.3" width="1.8" height="10.2" fill="#fff"/>
<rect x="698.30" y="184.2" width="1.4" height="17.6" fill="#cc1414"/>
<rect x="697.1" y="188.8" width="3.8" height="6.9" fill="#cc1414"/>
<rect x="698.1" y="189.8" width="1.8" height="4.9" fill="#fff"/>
<rect x="702.30" y="188.1" width="1.4" height="10.4" fill="#1b7a1b"/>
<rect x="701.1" y="188.1" width="3.8" height="7.8" fill="#1b7a1b"/>
<rect x="707.30" y="189.5" width="1.4" height="6.9" fill="#cc1414"/>
<rect x="706.1" y="192.5" width="3.8" height="3.2" fill="#cc1414"/>
<rect x="707.1" y="193.5" width="1.8" height="1.2" fill="#fff"/>
<rect x="712.30" y="184.4" width="1.4" height="7.0" fill="#cc1414"/>
<rect x="711.1" y="186.2" width="3.8" height="3.3" fill="#cc1414"/>
<rect x="712.1" y="187.2" width="1.8" height="1.3" fill="#fff"/>
<rect x="716.30" y="182.4" width="1.4" height="3.1" fill="#1b7a1b"/>
<rect x="715" y="184.7" width="4" height="1.3" fill="#1b7a1b"/>
<rect x="721.30" y="175.0" width="1.4" height="11.0" fill="#cc1414"/>
<rect x="720.1" y="183.2" width="3.8" height="1.8" fill="#cc1414"/>
<rect x="726.30" y="182.3" width="1.4" height="12.3" fill="#1b7a1b"/>
<rect x="725.1" y="182.3" width="3.8" height="4.5" fill="#1b7a1b"/>
<rect x="730.30" y="179.1" width="1.4" height="12.7" fill="#cc1414"/>
<rect x="729" y="184.8" width="4" height="1.3" fill="#cc1414"/>
<rect x="735.30" y="181.2" width="1.4" height="5.6" fill="#1b7a1b"/>
<rect x="734" y="183.7" width="4" height="1.3" fill="#1b7a1b"/>
<rect x="740.30" y="178.4" width="1.4" height="9.6" fill="#cc1414"/>
<rect x="739.1" y="183.3" width="3.8" height="4.2" fill="#cc1414"/>
<rect x="740.1" y="184.3" width="1.8" height="2.2" fill="#fff"/>
<rect x="744.30" y="176.9" width="1.4" height="20.5" fill="#cc1414"/>
<rect x="743.1" y="182.6" width="3.8" height="5.6" fill="#cc1414"/>
<rect x="744.1" y="183.6" width="1.8" height="3.6" fill="#fff"/>
</g>
<g>
<rect x="1" y="554.5" width="4" height="8.5" fill="#1b7a1b"/>
<rect x="6" y="549.1" width="4" height="13.9" fill="#cc1414"/>
<rect x="7" y="550.1" width="2" height="12.9" fill="#fff"/>
<rect x="11" y="549.1" width="4" height="13.9" fill="#1b7a1b"/>
<rect x="15" y="553.1" width="4" height="9.9" fill="#1b7a1b"/>
<rect x="20" y="553.1" width="4" height="9.9" fill="#1b7a1b"/>
<rect x="25" y="548.1" width="4" height="14.9" fill="#cc1414"/>
<rect x="26" y="549.1" width="2" height="13.9" fill="#fff"/>
<rect x="29" y="550.2" width="4" height="12.8" fill="#1b7a1b"/>
<rect x="34" y="554.1" width="4" height="8.9" fill="#1b7a1b"/>
<rect x="39" y="550.2" width="4" height="12.8" fill="#1b7a1b"/>
<rect x="43" y="557.2" width="4" height="5.8" fill="#1b7a1b"/>
<rect x="48" y="555.2" width="4" height="7.8" fill="#cc1414"/>
<rect x="49" y="556.2" width="2" height="6.8" fill="#fff"/>
<rect x="53" y="546.3" width="4" height="16.7" fill="#cc1414"/>
<rect x="54" y="547.3" width="2" height="15.7" fill="#fff"/>
<rect x="57" y="550.2" width="4" height="12.8" fill="#cc1414"/>
<rect x="58" y="551.2" width="2" height="11.8" fill="#fff"/>
<rect x="62" y="553.1" width="4" height="9.9" fill="#cc1414"/>
<rect x="63" y="554.1" width="2" height="8.9" fill="#fff"/>
<rect x="67" y="557.2" width="4" height="5.8" fill="#1b7a1b"/>
<rect x="71" y="541.4" width="4" height="21.6" fill="#1b7a1b"/>
<rect x="76" y="544.2" width="4" height="18.8" fill="#cc1414"/>
<rect x="77" y="545.2" width="2" height="17.8" fill="#fff"/>
<rect x="81" y="550.2" width="4" height="12.8" fill="#cc1414"/>
<rect x="82" y="551.2" width="2" height="11.8" fill="#fff"/>
<rect x="85" y="549.1" width="4" height="13.9" fill="#cc1414"/>
<rect x="86" y="550.1" width="2" height="12.9" fill="#fff"/>
<rect x="90" y="545.2" width="4" height="17.8" fill="#cc1414"/>
<rect x="91" y="546.2" width="2" height="16.8" fill="#fff"/>
<rect x="95" y="542.3" width="4" height="20.7" fill="#cc1414"/>
<rect x="96" y="543.3" width="2" height="19.7" fill="#fff"/>
<rect x="99" y="551.2" width="4" height="11.8" fill="#1b7a1b"/>
<rect x="104" y="548.1" width="4" height="14.9" fill="#1b7a1b"/>
<rect x="109" y="554.1" width="4" height="8.9" fill="#1b7a1b"/>
<rect x="113" y="553.1" width="4" height="9.9" fill="#cc1414"/>
<rect x="114" y="554.1" width="2" height="8.9" fill="#fff"/>
<rect x="118" y="556.2" width="4" height="6.8" fill="#cc1414"/>
<rect x="119" y="557.2" width="2" height="5.8" fill="#fff"/>
<rect x="123" y="554.1" width="4" height="8.9" fill="#cc1414"/>
<rect x="124" y="555.1" width="2" height="7.9" fill="#fff"/>
<rect x="127" y="554.1" width="4" height="8.9" fill="#1b7a1b"/>
<rect x="132" y="554.1" width="4" height="8.9" fill="#1b7a1b"/>
<rect x="137" y="552.2" width="4" height="10.8" fill="#cc1414"/>
<rect x="138" y="553.2" width="2" height="9.8" fill="#fff"/>
<rect x="141" y="551.2" width="4" height="11.8" fill="#1b7a1b"/>
<rect x="146" y="556.2" width="4" height="6.8" fill="#1b7a1b"/>
<rect x="151" y="555.2" width="4" height="7.8" fill="#1b7a1b"/>
<rect x="155" y="551.2" width="4" height="11.8" fill="#1b7a1b"/>
<rect x="160" y="553.1" width="4" height="9.9" fill="#1b7a1b"/>
<rect x="165" y="556.2" width="4" height="6.8" fill="#cc1414"/>
<rect x="166" y="557.2" width="2" height="5.8" fill="#fff"/>
<rect x="169" y="554.1" width="4" height="8.9" fill="#1b7a1b"/>
<rect x="174" y="558.0" width="4" height="5.0" fill="#1b7a1b"/>
<rect x="179" y="555.2" width="4" height="7.8" fill="#cc1414"/>
<rect x="180" y="556.2" width="2" height="6.8" fill="#fff"/>
<rect x="183" y="556.2" width="4" height="6.8" fill="#cc1414"/>
<rect x="184" y="557.2" width="2" height="5.8" fill="#fff"/>
<rect x="188" y="553.1" width="4" height="9.9" fill="#cc1414"/>
<rect x="189" y="554.1" width="2" height="8.9" fill="#fff"/>
<rect x="193" y="552.2" width="4" height="10.8" fill="#cc1414"/>
<rect x="194" y="553.2" width="2" height="9.8" fill="#fff"/>
<rect x="197" y="550.2" width="4" height="12.8" fill="#cc1414"/>
<rect x="198" y="551.2" width="2" height="11.8" fill="#fff"/>
<rect x="202" y="544.2" width="4" height="18.8" fill="#cc1414"/>
<rect x="203" y="545.2" width="2" height="17.8" fill="#fff"/>
<rect x="207" y="552.2" width="4" height="10.8" fill="#1b7a1b"/>
<rect x="211" y="546.3" width="4" height="16.7" fill="#cc1414"/>
<rect x="212" y="547.3" width="2" height="15.7" fill="#fff"/>
<rect x="216" y="545.2" width="4" height="17.8" fill="#1b7a1b"/>
<rect x="221" y="553.1" width="4" height="9.9" fill="#cc1414"/>
<rect x="222" y="554.1" width="2" height="8.9" fill="#fff"/>
<rect x="225" y="548.1" width="4" height="14.9" fill="#1b7a1b"/>
<rect x="230" y="547.3" width="4" height="15.7" fill="#cc1414"/>
<rect x="231" y="548.3" width="2" height="14.7" fill="#fff"/>
<rect x="235" y="532.5" width="4" height="30.5" fill="#cc1414"/>
<rect x="236" y="533.5" width="2" height="29.5" fill="#fff"/>
<rect x="239" y="536.4" width="4" height="26.6" fill="#1b7a1b"/>
<rect x="244" y="546.3" width="4" height="16.7" fill="#1b7a1b"/>
<rect x="249" y="546.3" width="4" height="16.7" fill="#1b7a1b"/>
<rect x="253" y="544.6" width="4" height="18.4" fill="#1b7a1b"/>
<rect x="258" y="532.5" width="4" height="30.5" fill="#cc1414"/>
<rect x="259" y="533.5" width="2" height="29.5" fill="#fff"/>
<rect x="263" y="526.5" width="4" height="36.5" fill="#cc1414"/>
<rect x="264" y="527.5" width="2" height="35.5" fill="#fff"/>
<rect x="267" y="526.5" width="4" height="36.5" fill="#cc1414"/>
<rect x="268" y="527.5" width="2" height="35.5" fill="#fff"/>
<rect x="272" y="525.1" width="4" height="37.9" fill="#cc1414"/>
<rect x="273" y="526.1" width="2" height="36.9" fill="#fff"/>
<rect x="277" y="530.5" width="4" height="32.5" fill="#1b7a1b"/>
<rect x="281" y="532.5" width="4" height="30.5" fill="#cc1414"/>
<rect x="282" y="533.5" width="2" height="29.5" fill="#fff"/>
<rect x="286" y="526.5" width="4" height="36.5" fill="#cc1414"/>
<rect x="287" y="527.5" width="2" height="35.5" fill="#fff"/>
<rect x="291" y="533.3" width="4" height="29.7" fill="#1b7a1b"/>
<rect x="295" y="541.4" width="4" height="21.6" fill="#1b7a1b"/>
<rect x="300" y="544.6" width="4" height="18.4" fill="#cc1414"/>
<rect x="301" y="545.6" width="2" height="17.4" fill="#fff"/>
<rect x="305" y="540.4" width="4" height="22.6" fill="#cc1414"/>
<rect x="306" y="541.4" width="2" height="21.6" fill="#fff"/>
<rect x="309" y="545.2" width="4" height="17.8" fill="#cc1414"/>
<rect x="310" y="546.2" width="2" height="16.8" fill="#fff"/>
<rect x="314" y="539.5" width="4" height="23.5" fill="#cc1414"/>
<rect x="315" y="540.5" width="2" height="22.5" fill="#fff"/>
<rect x="319" y="531.5" width="4" height="31.5" fill="#cc1414"/>
<rect x="320" y="532.5" width="2" height="30.5" fill="#fff"/>
<rect x="323" y="527.7" width="4" height="35.3" fill="#cc1414"/>
<rect x="324" y="528.7" width="2" height="34.3" fill="#fff"/>
<rect x="328" y="538.5" width="4" height="24.5" fill="#1b7a1b"/>
<rect x="333" y="539.5" width="4" height="23.5" fill="#1b7a1b"/>
<rect x="337" y="541.4" width="4" height="21.6" fill="#1b7a1b"/>
<rect x="342" y="541.4" width="4" height="21.6" fill="#1b7a1b"/>
<rect x="347" y="539.5" width="4" height="23.5" fill="#cc1414"/>
<rect x="348" y="540.5" width="2" height="22.5" fill="#fff"/>
<rect x="351" y="534.6" width="4" height="28.4" fill="#cc1414"/>
<rect x="352" y="535.6" width="2" height="27.4" fill="#fff"/>
<rect x="356" y="531.5" width="4" height="31.5" fill="#1b7a1b"/>
<rect x="361" y="528.4" width="4" height="34.6" fill="#cc1414"/>
<rect x="362" y="529.4" width="2" height="33.6" fill="#fff"/>
<rect x="365" y="536.4" width="4" height="26.6" fill="#1b7a1b"/>
<rect x="370" y="516.2" width="4" height="46.8" fill="#1b7a1b"/>
<rect x="375" y="539.5" width="4" height="23.5" fill="#1b7a1b"/>
<rect x="379" y="544.6" width="4" height="18.4" fill="#cc1414"/>
<rect x="380" y="545.6" width="2" height="17.4" fill="#fff"/>
<rect x="384" y="544.2" width="4" height="18.8" fill="#1b7a1b"/>
<rect x="389" y="546.3" width="4" height="16.7" fill="#cc1414"/>
<rect x="390" y="547.3" width="2" height="15.7" fill="#fff"/>
<rect x="393" y="544.2" width="4" height="18.8" fill="#1b7a1b"/>
<rect x="398" y="547.3" width="4" height="15.7" fill="#cc1414"/>
<rect x="399" y="548.3" width="2" height="14.7" fill="#fff"/>
<rect x="403" y="547.3" width="4" height="15.7" fill="#1b7a1b"/>
<rect x="407" y="540.4" width="4" height="22.6" fill="#cc1414"/>
<rect x="408" y="541.4" width="2" height="21.6" fill="#fff"/>
<rect x="412" y="548.1" width="4" height="14.9" fill="#cc1414"/>
<rect x="413" y="549.1" width="2" height="13.9" fill="#fff"/>
<rect x="417" y="547.3" width="4" height="15.7" fill="#1b7a1b"/>
<rect x="421" y="507.5" width="4" height="55.5" fill="#cc1414"/>
<rect x="422" y="508.5" width="2" height="54.5" fill="#fff"/>
<rect x="426" y="519.2" width="4" height="43.8" fill="#1b7a1b"/>
<rect x="431" y="532.2" width="4" height="30.8" fill="#1b7a1b"/>
<rect x="435" y="547.3" width="4" height="15.7" fill="#cc1414"/>
<rect x="436" y="548.3" width="2" height="14.7" fill="#fff"/>
<rect x="440" y="547.3" width="4" height="15.7" fill="#1b7a1b"/>
<rect x="445" y="557.2" width="4" height="5.8" fill="#cc1414"/>
<rect x="446" y="558.2" width="2" height="4.8" fill="#fff"/>
<rect x="449" y="543.2" width="4" height="19.8" fill="#1b7a1b"/>
<rect x="454" y="553.1" width="4" height="9.9" fill="#cc1414"/>
<rect x="455" y="554.1" width="2" height="8.9" fill="#fff"/>
<rect x="459" y="556.2" width="4" height="6.8" fill="#cc1414"/>
<rect x="460" y="557.2" width="2" height="5.8" fill="#fff"/>
<rect x="463" y="538.5" width="4" height="24.5" fill="#cc1414"/>
<rect x="464" y="539.5" width="2" height="23.5" fill="#fff"/>
<rect x="468" y="538.5" width="4" height="24.5" fill="#cc1414"/>
<rect x="469" y="539.5" width="2" height="23.5" fill="#fff"/>
<rect x="473" y="538.5" width="4" height="24.5" fill="#cc1414"/>
<rect x="474" y="539.5" width="2" height="23.5" fill="#fff"/>
<rect x="477" y="548.1" width="4" height="14.9" fill="#cc1414"/>
<rect x="478" y="549.1" width="2" height="13.9" fill="#fff"/>
<rect x="482" y="539.5" width="4" height="23.5" fill="#cc1414"/>
<rect x="483" y="540.5" width="2" height="22.5" fill="#fff"/>
<rect x="487" y="535.4" width="4" height="27.6" fill="#cc1414"/>
<rect x="488" y="536.4" width="2" height="26.6" fill="#fff"/>
<rect x="491" y="533.3" width="4" height="29.7" fill="#cc1414"/>
<rect x="492" y="534.3" width="2" height="28.7" fill="#fff"/>
<rect x="496" y="549.1" width="4" height="13.9" fill="#1b7a1b"/>
<rect x="501" y="548.1" width="4" height="14.9" fill="#1b7a1b"/>
<rect x="505" y="540.4" width="4" height="22.6" fill="#cc1414"/>
<rect x="506" y="541.4" width="2" height="21.6" fill="#fff"/>
<rect x="510" y="533.3" width="4" height="29.7" fill="#cc1414"/>
<rect x="511" y="534.3" width="2" height="28.7" fill="#fff"/>
<rect x="515" y="545.2" width="4" height="17.8" fill="#1b7a1b"/>
<rect x="519" y="543.2" width="4" height="19.8" fill="#1b7a1b"/>
<rect x="524" y="546.3" width="4" height="16.7" fill="#cc1414"/>
<rect x="525" y="547.3" width="2" height="15.7" fill="#fff"/>
<rect x="529" y="544.2" width="4" height="18.8" fill="#cc1414"/>
<rect x="530" y="545.2" width="2" height="17.8" fill="#fff"/>
<rect x="533" y="549.1" width="4" height="13.9" fill="#cc1414"/>
<rect x="534" y="550.1" width="2" height="12.9" fill="#fff"/>
<rect x="538" y="544.2" width="4" height="18.8" fill="#cc1414"/>
<rect x="539" y="545.2" width="2" height="17.8" fill="#fff"/>
<rect x="543" y="542.3" width="4" height="20.7" fill="#1b7a1b"/>
<rect x="547" y="551.2" width="4" height="11.8" fill="#cc1414"/>
<rect x="548" y="552.2" width="2" height="10.8" fill="#fff"/>
<rect x="552" y="553.1" width="4" height="9.9" fill="#1b7a1b"/>
<rect x="557" y="547.3" width="4" height="15.7" fill="#cc1414"/>
<rect x="558" y="548.3" width="2" height="14.7" fill="#fff"/>
<rect x="561" y="541.4" width="4" height="21.6" fill="#cc1414"/>
<rect x="562" y="542.4" width="2" height="20.6" fill="#fff"/>
<rect x="566" y="536.4" width="4" height="26.6" fill="#cc1414"/>
<rect x="567" y="537.4" width="2" height="25.6" fill="#fff"/>
<rect x="571" y="544.6" width="4" height="18.4" fill="#1b7a1b"/>
<rect x="575" y="550.2" width="4" height="12.8" fill="#1b7a1b"/>
<rect x="580" y="551.2" width="4" height="11.8" fill="#1b7a1b"/>
<rect x="585" y="554.5" width="4" height="8.5" fill="#cc1414"/>
<rect x="586" y="555.5" width="2" height="7.5" fill="#fff"/>
<rect x="589" y="556.2" width="4" height="6.8" fill="#1b7a1b"/>
<rect x="594" y="544.2" width="4" height="18.8" fill="#1b7a1b"/>
<rect x="599" y="531.5" width="4" height="31.5" fill="#cc1414"/>
<rect x="600" y="532.5" width="2" height="30.5" fill="#fff"/>
<rect x="603" y="539.5" width="4" height="23.5" fill="#cc1414"/>
<rect x="604" y="540.5" width="2" height="22.5" fill="#fff"/>
<rect x="608" y="546.3" width="4" height="16.7" fill="#cc1414"/>
<rect x="609" y="547.3" width="2" height="15.7" fill="#fff"/>
<rect x="613" y="547.3" width="4" height="15.7" fill="#cc1414"/>
<rect x="614" y="548.3" width="2" height="14.7" fill="#fff"/>
<rect x="617" y="527.5" width="4" height="35.5" fill="#cc1414"/>
<rect x="618" y="528.5" width="2" height="34.5" fill="#fff"/>
<rect x="622" y="535.4" width="4" height="27.6" fill="#1b7a1b"/>
<rect x="627" y="533.3" width="4" height="29.7" fill="#1b7a1b"/>
<rect x="631" y="545.2" width="4" height="17.8" fill="#1b7a1b"/>
<rect x="636" y="543.2" width="4" height="19.8" fill="#1b7a1b"/>
<rect x="641" y="551.2" width="4" height="11.8" fill="#1b7a1b"/>
<rect x="645" y="543.2" width="4" height="19.8" fill="#1b7a1b"/>
<rect x="650" y="542.3" width="4" height="20.7" fill="#1b7a1b"/>
<rect x="655" y="549.1" width="4" height="13.9" fill="#1b7a1b"/>
<rect x="659" y="553.1" width="4" height="9.9" fill="#cc1414"/>
<rect x="660" y="554.1" width="2" height="8.9" fill="#fff"/>
<rect x="664" y="552.2" width="4" height="10.8" fill="#cc1414"/>
<rect x="665" y="553.2" width="2" height="9.8" fill="#fff"/>
<rect x="669" y="551.2" width="4" height="11.8" fill="#1b7a1b"/>
<rect x="673" y="542.3" width="4" height="20.7" fill="#1b7a1b"/>
<rect x="678" y="554.5" width="4" height="8.5" fill="#cc1414"/>
<rect x="679" y="555.5" width="2" height="7.5" fill="#fff"/>
<rect x="683" y="557.2" width="4" height="5.8" fill="#cc1414"/>
<rect x="684" y="558.2" width="2" height="4.8" fill="#fff"/>
<rect x="687" y="558.3" width="4" height="4.7" fill="#1b7a1b"/>
<rect x="692" y="546.3" width="4" height="16.7" fill="#cc1414"/>
<rect x="693" y="547.3" width="2" height="15.7" fill="#fff"/>
<rect x="697" y="549.1" width="4" height="13.9" fill="#cc1414"/>
<rect x="698" y="550.1" width="2" height="12.9" fill="#fff"/>
<rect x="701" y="554.5" width="4" height="8.5" fill="#1b7a1b"/>
<rect x="706" y="555.2" width="4" height="7.8" fill="#cc1414"/>
<rect x="707" y="556.2" width="2" height="6.8" fill="#fff"/>
<rect x="711" y="550.2" width="4" height="12.8" fill="#cc1414"/>
<rect x="712" y="551.2" width="2" height="11.8" fill="#fff"/>
<rect x="715" y="554.5" width="4" height="8.5" fill="#1b7a1b"/>
<rect x="720" y="558.3" width="4" height="4.7" fill="#cc1414"/>
<rect x="721" y="559.3" width="2" height="3.7" fill="#fff"/>
<rect x="725" y="556.2" width="4" height="6.8" fill="#1b7a1b"/>
<rect x="729" y="555.2" width="4" height="7.8" fill="#cc1414"/>
<rect x="730" y="556.2" width="2" height="6.8" fill="#fff"/>
<rect x="734" y="558.3" width="4" height="4.7" fill="#1b7a1b"/>
<rect x="739" y="557.2" width="4" height="5.8" fill="#cc1414"/>
<rect x="740" y="558.2" width="2" height="4.8" fill="#fff"/>
<rect x="743" y="552.2" width="4" height="10.8" fill="#cc1414"/>
<rect x="744" y="553.2" width="2" height="9.8" fill="#fff"/>
</g>
<rect x="0" y="563" width="888" height="4" fill="#ededed"/>
<text x="495.6" y="482.4" font-family="Liberation Sans, sans-serif" font-size="12.5px" fill="#b41a1a" textLength="5.6" lengthAdjust="spacingAndGlyphs">$</text>
<rect x="128" y="240.8" width="126.4" height="34.1" fill="none" stroke="#3c96e1" stroke-width="3"/>
<polygon points="200.1,272.8 200.9,272.3 247.0,327.6 249.8,325.6 251.0,336.4 241.2,333.0 243.6,330.4" fill="#ee2ee8"/>
</svg></body></html>
